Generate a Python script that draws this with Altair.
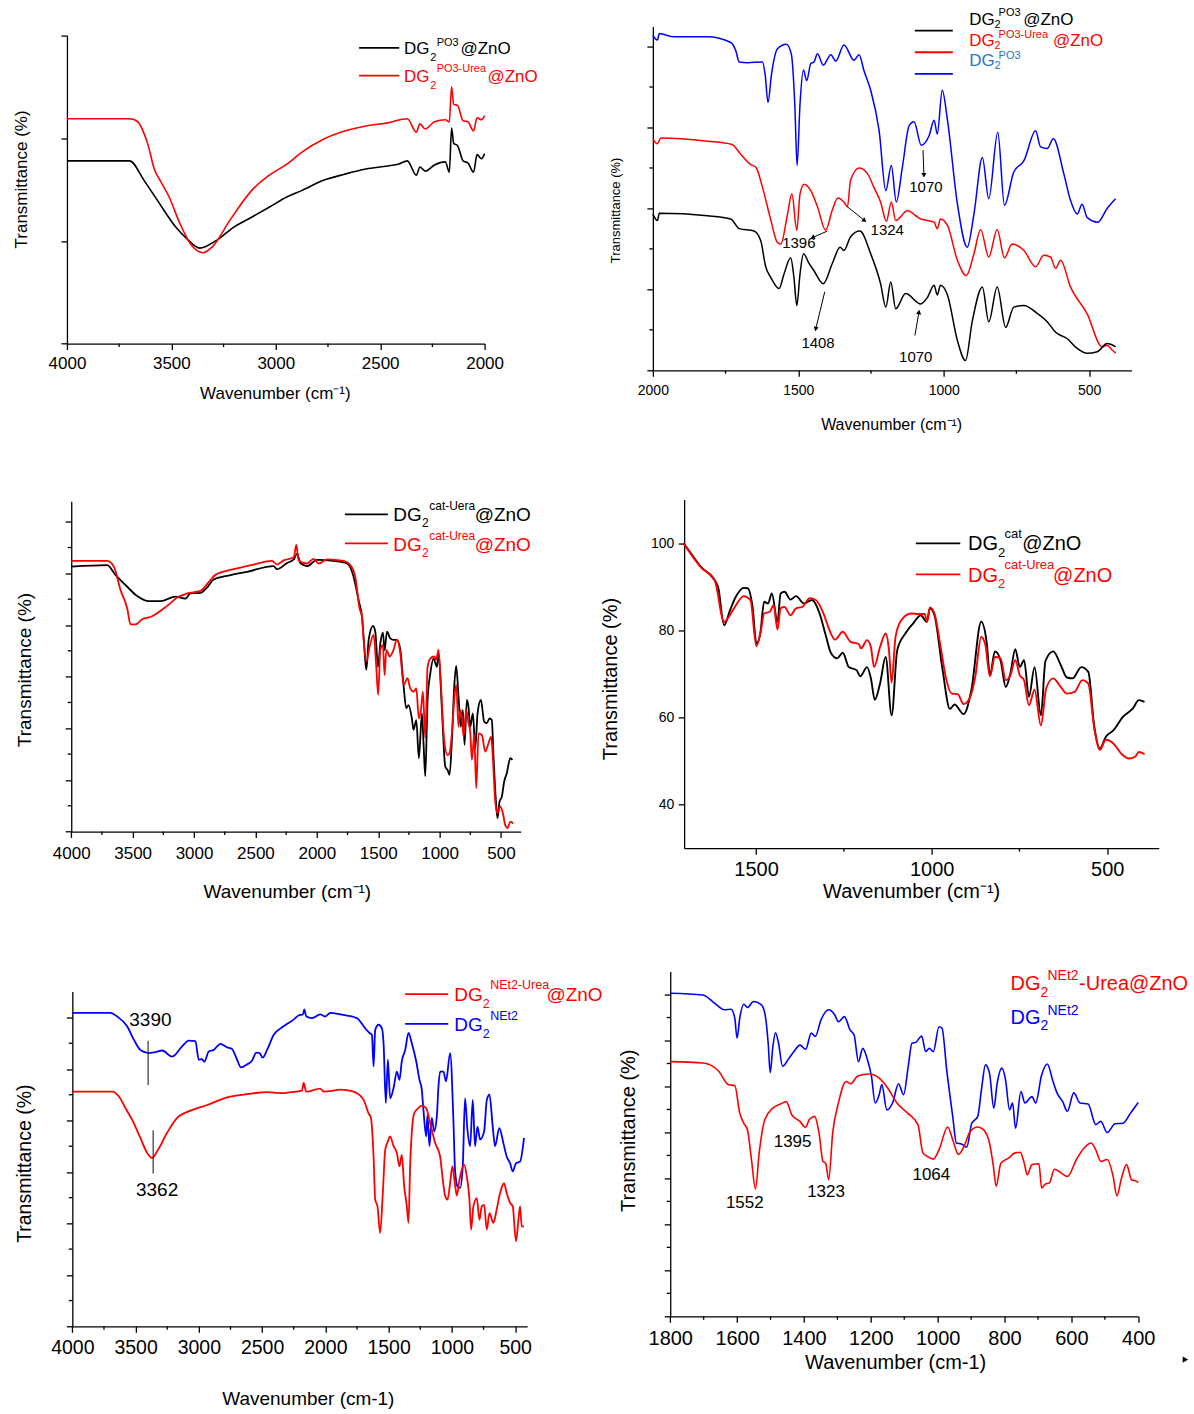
import altair as alt
import pandas as pd

FONT = "Liberation Sans"
BLACK, RED, BLUE = "#000000", "#ff0000", "#0000ff"
LBLUE = "#1f78c8"

# ---------------- Panel A (top-left) ----------------
A_BLACK_WN = [4000, 3850, 3700, 3631, 3562, 3477, 3425, 3364, 3288, 3204, 3116, 3030, 2945, 2876, 2772, 2670, 2568, 2464, 2410, 2370,
              2327, 2310, 2284, 2240, 2188, 2169, 2158, 2148, 2130, 2103, 2080, 2053, 2036, 2015, 2000]
A_BLACK_T = [1.78, 1.78, 1.78, 1.59, 1.38, 1.13, 1.02, 0.93, 1.00, 1.13, 1.23, 1.33, 1.43, 1.49, 1.59, 1.65, 1.70, 1.73, 1.75, 1.78,
             1.64, 1.72, 1.68, 1.74, 1.77, 1.67, 2.10, 1.95, 1.93, 1.78, 1.76, 1.67, 1.84, 1.80, 1.85]
A_RED_WN = [4000, 3850, 3700, 3667, 3614, 3580, 3554, 3511, 3459, 3408, 3348, 3305, 3220, 3116, 3031, 2945, 2878, 2772, 2670, 2568,
            2465, 2370, 2327, 2310, 2284, 2240, 2188, 2169, 2158, 2148, 2130, 2103, 2080, 2053, 2036, 2015, 2000]
A_RED_T = [2.19, 2.19, 2.19, 2.17, 1.95, 1.69, 1.59, 1.43, 1.17, 0.97, 0.885, 0.94, 1.20, 1.49, 1.64, 1.75, 1.86, 1.99, 2.07, 2.12,
           2.15, 2.19, 2.06, 2.14, 2.09, 2.16, 2.18, 2.16, 2.50, 2.33, 2.32, 2.17, 2.16, 2.07, 2.20, 2.18, 2.22]

# ---------------- Panel B (top-right) ----------------
B_BLUE_WN = [2000, 1984, 1978, 1927, 1812, 1732, 1715, 1703, 1675, 1623, 1614, 1604, 1592, 1572, 1541, 1524, 1512, 1504, 1494, 1482,
             1471, 1457, 1446, 1434, 1414, 1388, 1371, 1343, 1308, 1291, 1274, 1251, 1222, 1199, 1180, 1163, 1142, 1119, 1102, 1077,
             1050, 1033, 1022, 1005, 987, 953, 919, 896, 867, 845, 814, 791, 759, 724, 684, 667, 644, 623, 587, 564,
             541, 524, 507, 470, 438, 409]
B_BLUE_T = [4.14, 4.08, 4.16, 4.12, 4.12, 4.05, 3.95, 3.81, 3.80, 3.81, 3.66, 3.31, 3.66, 3.97, 4.03, 3.91, 3.29, 2.53, 3.29, 3.71,
            3.58, 3.79, 3.81, 3.91, 3.77, 3.90, 3.82, 4.02, 3.83, 3.90, 3.70, 3.46, 2.96, 2.22, 2.53, 2.08, 2.51, 3.02, 3.07, 2.78,
            2.90, 3.09, 2.92, 3.46, 3.09, 2.06, 1.52, 1.93, 2.63, 2.12, 2.94, 2.04, 2.45, 2.59, 2.96, 2.76, 2.74, 2.86, 2.43, 2.10,
            1.93, 2.05, 1.89, 1.83, 2.00, 2.12]
B_RED_WN = [2000, 1984, 1973, 1812, 1728, 1698, 1663, 1646, 1623, 1594, 1572, 1560, 1537, 1522, 1505, 1494, 1480, 1457, 1434, 1406,
            1383, 1364, 1343, 1331, 1320, 1291, 1262, 1240, 1217, 1197, 1180, 1165, 1125, 1079, 1056, 1033, 1022, 1011, 987, 953,
            922, 896, 873, 845, 816, 791, 765, 724, 684, 656, 633, 615, 598, 564, 507, 455, 438, 421, 409]
B_RED_T = [2.86, 2.80, 2.87, 2.83, 2.79, 2.67, 2.54, 2.51, 2.26, 1.85, 1.58, 1.56, 1.93, 2.18, 1.73, 2.18, 2.30, 2.22, 2.02, 1.73,
           1.98, 2.13, 2.08, 2.02, 2.35, 2.50, 2.43, 2.26, 2.08, 1.84, 2.08, 1.85, 1.97, 1.87, 1.85, 1.83, 1.75, 1.87, 1.79, 1.36,
           1.17, 1.44, 1.74, 1.40, 1.74, 1.39, 1.56, 1.48, 1.28, 1.42, 1.40, 1.26, 1.36, 1.03, 0.70, 0.29, 0.31, 0.25, 0.21]
B_BLACK_WN = [2000, 1984, 1978, 1812, 1732, 1703, 1652, 1629, 1612, 1595, 1566, 1549, 1526, 1515, 1505, 1494, 1482, 1463, 1446, 1414,
              1383, 1356, 1343, 1320, 1288, 1251, 1217, 1199, 1182, 1165, 1131, 1079, 1056, 1033, 1022, 1011, 987, 953, 925, 902,
              867, 845, 816, 787, 759, 724, 684, 644, 615, 575, 541, 507, 472, 438, 409]
B_BLACK_T = [1.93, 1.85, 1.94, 1.91, 1.87, 1.75, 1.72, 1.60, 1.28, 1.15, 1.01, 1.19, 1.39, 1.15, 0.80, 1.19, 1.44, 1.32, 1.23, 1.07,
             1.32, 1.52, 1.48, 1.65, 1.72, 1.44, 1.07, 0.78, 1.09, 0.76, 0.95, 0.82, 0.90, 1.05, 0.93, 1.05, 0.93, 0.37, 0.12, 0.60,
             1.03, 0.60, 1.03, 0.53, 0.78, 0.80, 0.72, 0.60, 0.47, 0.39, 0.27, 0.21, 0.23, 0.33, 0.29]
B_NOTES = [("1070", 1061, 2.26), ("1396", 1498, 1.57), ("1324", 1194, 1.73), ("1408", 1432, 0.34), ("1070", 1096, 0.17)]
B_ARROWS = [(1071, 2.72, 1068, 2.41, 178), (1400, 1.72, 1451, 1.64, 246), (1331, 2.02, 1272, 1.85, 128),
            (1409, 0.97, 1440, 0.51, 194), (1099, 0.43, 1085, 0.72, 10)]

# ---------------- Panel C (middle-left) ----------------
C_BLACK_WN = [4000, 3707, 3640, 3544, 3463, 3368, 3273, 3151, 3070, 3029, 2948, 2893, 2840, 2731, 2568, 2351, 2324, 2242, 2188, 2161,
              2134, 2080, 1998, 1863, 1754, 1700, 1660, 1632, 1619, 1597, 1578, 1543, 1524, 1502, 1483, 1462, 1448, 1429, 1402, 1375,
              1348, 1320, 1293, 1272, 1253, 1226, 1212, 1190, 1169, 1144, 1131, 1117, 1098, 1076, 1049, 1022, 1009, 981, 954, 935,
              919, 900, 881, 865, 846, 827, 811, 797, 778, 765, 751, 729, 710, 691, 664, 637, 615, 594, 575, 561,
              542, 529, 512, 493, 474, 453, 425, 407]
C_BLACK_T = [5.13, 5.16, 4.97, 4.74, 4.56, 4.46, 4.46, 4.55, 4.51, 4.61, 4.62, 4.73, 4.88, 4.95, 5.03, 5.14, 5.08, 5.20, 5.27, 5.38,
             5.20, 5.14, 5.26, 5.24, 5.19, 4.93, 4.48, 4.16, 3.77, 3.13, 3.71, 3.98, 3.87, 3.19, 3.64, 3.85, 3.51, 3.87, 3.74, 3.71,
             3.71, 3.52, 2.81, 2.39, 2.45, 2.19, 1.97, 2.16, 1.42, 2.29, 1.71, 1.07, 2.55, 3.06, 3.35, 3.19, 3.45, 2.35, 1.26, 1.19,
             1.10, 1.77, 2.81, 3.21, 2.61, 2.03, 2.35, 1.68, 2.55, 2.42, 2.03, 2.29, 1.61, 2.29, 2.55, 2.13, 2.10, 2.19, 2.16, 1.45,
             0.61, 0.26, 0.58, 0.68, 0.97, 1.13, 1.42, 1.39]
C_RED_WN = [4000, 3707, 3653, 3599, 3544, 3517, 3477, 3422, 3341, 3219, 3124, 3056, 2948, 2867, 2826, 2677, 2514, 2365, 2324, 2270,
            2188, 2167, 2148, 2080, 2026, 1985, 1917, 1782, 1727, 1687, 1652, 1632, 1619, 1597, 1570, 1537, 1516, 1500, 1483, 1462,
            1448, 1434, 1407, 1375, 1348, 1320, 1293, 1261, 1239, 1212, 1190, 1169, 1152, 1136, 1117, 1098, 1076, 1044, 1028, 1009,
            990, 963, 935, 919, 900, 881, 865, 846, 832, 819, 805, 783, 765, 751, 737, 718, 702, 683, 656, 629,
            602, 580, 567, 548, 529, 507, 485, 466, 447, 425, 412, 404]
C_RED_T = [5.24, 5.24, 5.13, 4.68, 4.32, 4.01, 4.01, 4.11, 4.17, 4.37, 4.55, 4.61, 4.66, 4.87, 4.97, 5.08, 5.17, 5.24, 5.17, 5.25,
           5.31, 5.55, 5.25, 5.19, 5.28, 5.19, 5.27, 5.24, 5.16, 4.93, 4.32, 4.16, 3.71, 3.29, 3.58, 3.81, 3.19, 2.65, 3.52, 3.61,
           3.03, 3.52, 3.39, 3.52, 3.72, 3.45, 2.84, 2.97, 2.77, 2.71, 2.77, 2.19, 2.35, 2.71, 1.81, 3.19, 3.35, 3.39, 3.33, 3.52,
           2.87, 1.77, 1.48, 1.52, 1.90, 2.55, 2.84, 2.03, 2.35, 2.23, 1.84, 2.35, 2.10, 1.94, 1.39, 1.87, 0.84, 1.90, 1.87, 1.55,
           1.71, 1.84, 1.45, 0.61, 0.36, 0.49, 0.36, 0.13, 0.07, 0.19, 0.19, 0.15]

# ---------------- Panel D (middle-right) ----------------
D_BLACK_WN = [1706, 1685, 1657, 1624, 1608, 1591, 1574, 1558, 1535, 1524, 1510, 1499, 1488, 1477, 1466, 1455, 1439, 1430, 1419, 1402,
              1386, 1364, 1341, 1319, 1303, 1286, 1269, 1253, 1236, 1214, 1203, 1184, 1173, 1162, 1147, 1131, 1114, 1098, 1075, 1053,
              1031, 1014, 1005, 992, 970, 948, 935, 909, 887, 859, 843, 834, 820, 804, 789, 776, 762, 749, 737, 723,
              707, 689, 676, 654, 632, 615, 599, 574, 554, 537, 521, 504, 482, 455, 427, 410, 394]
D_BLACK_T = [100.0, 97.7, 94.6, 92.2, 90.0, 81.2, 84.7, 87.7, 89.8, 89.7, 85.4, 77.0, 79.3, 86.6, 86.2, 88.5, 82.0, 88.5, 88.9, 87.1,
             87.9, 86.2, 87.0, 83.9, 79.3, 74.7, 73.6, 74.9, 71.6, 70.9, 69.5, 71.6, 69.0, 64.1, 67.8, 73.9, 60.5, 75.5, 79.3, 81.6,
             83.5, 82.0, 85.1, 83.5, 71.6, 62.0, 63.0, 60.8, 66.3, 82.0, 77.0, 69.7, 75.2, 73.2, 67.0, 70.1, 75.7, 71.6, 73.2, 64.8,
             71.6, 60.5, 73.0, 75.2, 72.0, 69.2, 69.0, 71.6, 70.5, 57.9, 52.9, 55.6, 57.1, 60.2, 62.1, 64.0, 63.6]
D_RED_WN = [1706, 1657, 1618, 1591, 1563, 1535, 1516, 1499, 1486, 1477, 1461, 1450, 1439, 1430, 1419, 1402, 1386, 1369, 1347, 1330,
            1308, 1291, 1275, 1253, 1231, 1208, 1201, 1184, 1173, 1164, 1147, 1131, 1122, 1114, 1103, 1086, 1059, 1037, 1020, 1013,
            1005, 992, 976, 959, 943, 926, 909, 892, 876, 859, 848, 834, 820, 804, 789, 776, 762, 749, 737, 723,
            707, 689, 674, 654, 632, 615, 593, 571, 554, 537, 521, 504, 482, 460, 438, 421, 410, 394]
D_RED_T = [100.0, 94.5, 91.6, 82.0, 85.1, 87.9, 87.0, 76.4, 80.1, 83.9, 84.3, 85.8, 80.2, 85.1, 85.4, 83.5, 85.1, 85.4, 87.4, 87.0,
           83.9, 80.1, 77.9, 79.7, 77.4, 76.9, 75.9, 77.8, 76.2, 71.6, 76.2, 79.3, 75.9, 68.0, 78.5, 82.4, 83.9, 83.8, 83.8, 82.0,
           85.3, 83.9, 77.0, 69.0, 65.5, 65.4, 63.1, 64.4, 69.3, 78.5, 77.0, 69.5, 73.9, 73.6, 68.6, 69.7, 73.2, 69.7, 68.6, 62.8,
           66.4, 58.2, 66.7, 69.0, 67.0, 65.5, 65.9, 68.6, 67.8, 57.5, 52.6, 54.9, 54.0, 51.7, 50.6, 51.0, 52.1, 51.6]

# ---------------- Panel E (bottom-left) ----------------
E_BLUE_WN = [4000, 3698, 3646, 3567, 3514, 3462, 3396, 3343, 3290, 3211, 3132, 3080, 3027, 3001, 2974, 2956, 2922, 2883, 2830, 2777,
             2738, 2698, 2667, 2619, 2580, 2546, 2520, 2496, 2461, 2409, 2330, 2251, 2212, 2177, 2167, 2151, 2106, 2040, 2001, 1961,
             1882, 1751, 1685, 1651, 1632, 1619, 1606, 1580, 1553, 1540, 1522, 1506, 1488, 1461, 1435, 1414, 1396, 1369, 1343, 1317,
             1282, 1256, 1238, 1225, 1203, 1193, 1177, 1159, 1140, 1119, 1106, 1093, 1067, 1046, 1014, 988, 975, 956, 935, 914,
             896, 877, 856, 835, 817, 798, 777, 745, 724, 703, 677, 659, 625, 593, 567, 540, 519, 493, 461, 430]
E_BLUE_T = [6.09, 6.09, 6.02, 5.83, 5.57, 5.37, 5.31, 5.33, 5.36, 5.24, 5.44, 5.55, 5.54, 5.18, 5.19, 5.14, 5.34, 5.37, 5.49, 5.42,
            5.39, 5.18, 5.03, 5.09, 5.16, 5.32, 5.31, 5.22, 5.37, 5.66, 5.83, 5.96, 6.04, 6.06, 6.16, 6.02, 5.99, 6.06, 6.02, 6.09,
            6.06, 5.99, 5.79, 5.70, 5.66, 5.05, 5.76, 5.86, 5.79, 5.50, 4.34, 5.18, 4.43, 4.63, 4.95, 4.79, 5.15, 5.37, 5.70, 5.50,
            5.15, 4.79, 4.60, 4.21, 3.69, 4.11, 3.50, 4.05, 3.79, 4.08, 4.66, 4.95, 4.95, 4.76, 5.31, 4.01, 3.04, 2.72, 2.69, 3.11,
            4.43, 3.82, 3.50, 4.40, 3.50, 3.88, 3.63, 3.79, 4.40, 4.50, 3.88, 3.50, 3.85, 3.56, 3.30, 3.17, 3.01, 3.17, 3.20, 3.66]
E_RED_WN = [4000, 3685, 3633, 3580, 3527, 3462, 3409, 3369, 3330, 3251, 3172, 3067, 2935, 2777, 2619, 2461, 2343, 2277, 2185, 2172,
            2151, 2040, 2014, 1935, 1882, 1777, 1698, 1659, 1640, 1619, 1606, 1588, 1567, 1546, 1527, 1506, 1488, 1461, 1435, 1414,
            1396, 1377, 1356, 1343, 1330, 1317, 1298, 1277, 1238, 1203, 1172, 1132, 1093, 1072, 1053, 1035, 1014, 996, 975, 961,
            940, 922, 903, 882, 861, 848, 830, 803, 782, 764, 745, 724, 703, 672, 646, 619, 588, 567, 540, 519,
            493, 474, 461, 448, 430]
E_RED_T = [4.56, 4.56, 4.47, 4.24, 4.01, 3.66, 3.37, 3.27, 3.40, 3.76, 4.05, 4.19, 4.30, 4.45, 4.51, 4.55, 4.53, 4.55, 4.58, 4.73,
           4.56, 4.62, 4.56, 4.58, 4.60, 4.56, 4.40, 4.14, 4.05, 3.30, 2.46, 2.33, 1.81, 2.59, 3.43, 3.59, 3.69, 3.50, 3.37, 3.11,
           3.33, 2.72, 2.33, 2.01, 3.11, 3.76, 4.14, 4.21, 4.29, 4.24, 3.95, 3.56, 3.30, 2.85, 2.53, 2.46, 2.78, 3.11, 2.75, 2.54,
           2.85, 3.04, 3.14, 2.91, 2.46, 1.88, 2.33, 2.49, 2.07, 2.33, 2.36, 1.88, 2.20, 2.01, 2.27, 2.59, 2.78, 2.59, 2.40, 2.33,
           1.65, 2.07, 2.33, 1.94, 1.94]
E_NOTES = [("3390", 3383, 5.95), ("3362", 3330, 2.65)]
E_MARKS = [(3401, 5.55, 4.69), (3361, 3.81, 2.97)]

# ---------------- Panel F (bottom-right) ----------------
F_BLUE_WN = [1800, 1702, 1667, 1638, 1618, 1607, 1600, 1592, 1580, 1569, 1551, 1528, 1517, 1507, 1501, 1493, 1485, 1476, 1464, 1447,
             1430, 1412, 1395, 1378, 1366, 1349, 1326, 1308, 1297, 1279, 1262, 1250, 1237, 1224, 1210, 1198, 1187, 1175, 1167, 1152,
             1135, 1117, 1102, 1088, 1077, 1065, 1048, 1036, 1025, 1013, 996, 987, 973, 955, 944, 929, 913, 898, 889, 880,
             869, 857, 845, 832, 822, 808, 797, 785, 776, 767, 751, 739, 718, 707, 689, 672, 655, 643, 626, 612,
             593, 574, 550, 527, 512, 493, 469, 446, 423, 400]
F_BLUE_T = [7.03, 6.99, 6.81, 6.67, 6.68, 6.49, 6.05, 6.49, 6.79, 6.72, 6.85, 6.78, 6.59, 5.94, 5.30, 5.87, 6.17, 5.94, 5.44, 5.59,
            5.76, 5.90, 5.81, 6.16, 6.09, 6.45, 6.67, 6.56, 6.41, 6.52, 6.23, 6.12, 5.54, 5.83, 5.58, 5.22, 4.64, 4.82, 5.04, 4.49,
            4.64, 5.06, 4.82, 5.44, 5.94, 5.96, 6.10, 5.76, 5.83, 5.76, 6.30, 6.27, 5.36, 4.35, 3.77, 3.75, 3.68, 4.20, 4.27, 4.35,
            4.93, 5.47, 5.29, 4.53, 5.07, 5.40, 5.15, 4.49, 4.64, 4.09, 4.89, 4.64, 4.78, 4.64, 5.25, 5.49, 5.11, 4.86, 4.67, 4.46,
            4.86, 4.64, 4.62, 4.17, 4.24, 4.00, 4.19, 4.20, 4.42, 4.65]
F_RED_WN = [1800, 1702, 1655, 1626, 1607, 1592, 1580, 1569, 1557, 1545, 1534, 1517, 1493, 1470, 1453, 1436, 1412, 1395, 1384, 1368,
            1355, 1343, 1335, 1326, 1314, 1297, 1274, 1260, 1239, 1204, 1175, 1146, 1123, 1088, 1059, 1044, 1031, 1013, 996, 970,
            955, 938, 921, 903, 880, 863, 845, 834, 825, 811, 788, 770, 753, 741, 732, 718, 697, 689, 678, 666,
            651, 631, 612, 585, 562, 541, 527, 512, 493, 475, 464, 450, 435, 420, 406, 400]
F_RED_T = [5.54, 5.51, 5.33, 5.04, 5.02, 4.42, 4.20, 4.06, 3.41, 2.77, 3.55, 4.28, 4.53, 4.62, 4.67, 4.38, 4.24, 4.11, 4.28, 4.35,
           3.99, 3.37, 3.33, 2.97, 3.99, 4.64, 5.11, 5.06, 5.23, 5.27, 5.18, 4.93, 4.65, 4.41, 4.17, 3.55, 3.48, 3.42, 3.62, 4.12,
           3.84, 3.52, 3.70, 4.02, 4.12, 4.06, 3.77, 3.30, 2.83, 3.33, 3.44, 3.55, 3.57, 3.33, 3.08, 3.30, 3.32, 2.79, 2.88, 2.90,
           3.20, 3.12, 3.04, 3.41, 3.66, 3.77, 3.62, 3.37, 3.41, 3.04, 2.62, 3.01, 3.30, 2.97, 2.94, 2.91]
F_NOTES = [("1552", 1577, 2.47), ("1395", 1434, 3.80), ("1323", 1334, 2.70), ("1064", 1019, 3.08)]

# axis tick values
A_XMAJ, A_XMIN = [4000, 3500, 3000, 2500, 2000], [3750, 3250, 2750, 2250]
B_XMAJ, B_XMIN = [2000, 1500, 1000, 500], [1750, 1250, 750]
C_XMAJ = [4000, 3500, 3000, 2500, 2000, 1500, 1000, 500]
C_XMIN = [3750, 3250, 2750, 2250, 1750, 1250, 750]
D_XMAJ, D_XMIN = [1500, 1000, 500], [1250, 750]
F_XMAJ = [1800, 1600, 1400, 1200, 1000, 800, 600, 400]
F_XMIN = [1700, 1500, 1300, 1100, 900, 700, 500]
D_YMAJ = [40, 60, 80, 100]

DUMMY = pd.DataFrame({"k": [0]})


def txt(s, x, y, size, color=BLACK, align="left", baseline="alphabetic", angle=0):
    return alt.Chart(DUMMY).mark_text(text=s, font=FONT, fontSize=size, color=color, align=align,
                                      baseline=baseline, angle=angle).encode(x=alt.value(x), y=alt.value(y))


def hline(x1, x2, y, color, w=1.8):
    return alt.Chart(DUMMY).mark_rule(color=color, strokeWidth=w).encode(
        x=alt.value(x1), x2=alt.value(x2), y=alt.value(y))


def panel(p):
    xs = alt.Scale(domain=p["xdom"], range=p["xrange"], nice=False, zero=False)
    ys = alt.Scale(domain=p["ydom"], range=p["yrange"], nice=False, zero=False)
    xax = alt.Axis(values=p["xmaj"], title=None, grid=False, format="d", labelFlush=False, labelOverlap=False,
                   labelFont=FONT, labelFontSize=p["xlab"], labelColor=BLACK, labelPadding=p["xpad"],
                   tickSize=6, tickColor=BLACK, tickWidth=1.3, domainColor=BLACK, domainWidth=1.3)
    ykw = dict(values=p["ymaj"], title=None, grid=False, tickSize=6, tickColor=BLACK, tickWidth=1.3,
               domainColor=BLACK, domainWidth=1.3, offset=-p["yoff"])
    if p.get("ylab"):
        ykw.update(labels=True, format="d", labelFont=FONT, labelFontSize=p["ylab"], labelColor=BLACK,
                   labelPadding=p["ypad"])
    else:
        ykw.update(labels=False)
    yax = alt.Axis(**ykw)

    def X(f):
        return alt.X(f, scale=xs, axis=xax)

    def Y(f):
        return alt.Y(f, scale=ys, axis=yax)

    layers = []
    for wn, t, color in p["curves"]:
        df = pd.DataFrame({"wn": wn, "t": t, "i": list(range(len(wn)))})
        layers.append(alt.Chart(df).mark_line(color=color, strokeWidth=p["lw"], interpolate="monotone").encode(
            x=X("wn:Q"), y=Y("t:Q"), order="i:Q"))
    H = p["yrange"][0]
    x0 = p["xrange"][0]
    if p["xmin"]:
        layers.append(alt.Chart(pd.DataFrame({"wn": p["xmin"]})).mark_rule(color=BLACK, strokeWidth=1.3).encode(
            x=X("wn:Q"), y=alt.value(H), y2=alt.value(H + 3.5)))
    if p["ymin"]:
        layers.append(alt.Chart(pd.DataFrame({"t": p["ymin"]})).mark_rule(color=BLACK, strokeWidth=1.3).encode(
            y=Y("t:Q"), x=alt.value(x0 - 3.5), x2=alt.value(x0)))
    for s, wn, t in p.get("notes", []):
        df = pd.DataFrame({"wn": [wn], "t": [t], "s": [s]})
        layers.append(alt.Chart(df).mark_text(font=FONT, fontSize=p["note_size"], color=BLACK, align="center",
                                              baseline="middle").encode(x=X("wn:Q"), y=Y("t:Q"), text="s:N"))
    for w1, t1, w2, t2, ang in p.get("arrows", []):
        df = pd.DataFrame({"wn": [w1], "t": [t1], "wn2": [w2], "t2": [t2]})
        layers.append(alt.Chart(df).mark_rule(color=BLACK, strokeWidth=1).encode(
            x=X("wn:Q"), x2="wn2:Q", y=Y("t:Q"), y2="t2:Q"))
        layers.append(alt.Chart(df).mark_point(shape="triangle-up", filled=True, size=26, angle=ang,
                                               color=BLACK, opacity=1).encode(x=X("wn2:Q"), y=Y("t2:Q")))
    for wn, t1, t2 in p.get("marks", []):
        df = pd.DataFrame({"wn": [wn], "t": [t1], "t2": [t2]})
        layers.append(alt.Chart(df).mark_rule(color="#333333", strokeWidth=1.2).encode(
            x=X("wn:Q"), y=Y("t:Q"), y2="t2:Q"))
    for x1, x2, y, c in p.get("leg_lines", []):
        layers.append(hline(x1, x2, y, c))
    for s, x, y, size, c in p.get("leg_text", []):
        layers.append(txt(s, x, y, size, c))
    # axis titles
    ytx, yty, yts = p["ytitle"]
    layers.append(txt("Transmittance (%)", ytx, yty, yts, BLACK, "center", "middle", 270))
    xt, xtx, xty, xts = p["xtitle"]
    layers.append(txt(xt, xtx, xty, xts, BLACK, "center", "middle"))
    layers.extend(p.get("extra", []))
    return alt.layer(*layers).properties(width=p["W"], height=p["H"])


WN1 = "Wavenumber (cm\u207b\u00b9)"
WN2 = "Wavenumber (cm-1)"

pA = panel(dict(
    W=418, H=317.3, xdom=[4000, 2000], xrange=[0, 418], ydom=[0, 3], yrange=[317.3, 9],
    xmaj=A_XMAJ, xmin=A_XMIN, ymaj=[0, 1, 2, 3], ymin=[], xlab=17, xpad=6, yoff=0, lw=1.6,
    curves=[(A_BLACK_WN, A_BLACK_T, BLACK), (A_RED_WN, A_RED_T, RED)],
    leg_lines=[(292.4, 332.6, 21.3, BLACK), (292.4, 332.6, 49, RED)],
    leg_text=[("DG", 337.3, 27.3, 17, BLACK), ("2", 363.5, 34, 11, BLACK), ("PO3", 370, 19, 11, BLACK),
              ("@ZnO", 393.9, 27.3, 17, BLACK),
              ("DG", 337.3, 55.7, 17, RED), ("2", 363.5, 62.4, 11, RED), ("PO3-Urea", 370, 45.7, 11, RED),
              ("@ZnO", 420.9, 55.7, 17, RED)],
    ytitle=(-45.4, 153, 17), xtitle=(WN1, 208.6, 368, 17),
    extra=[alt.Chart(DUMMY).mark_rule(color="white", strokeWidth=1).encode(
               x=alt.value(-65.9), x2=alt.value(-65.9), y=alt.value(-25.5), y2=alt.value(-25.5)),
           alt.Chart(DUMMY).mark_rule(color="white", strokeWidth=1).encode(
               x=alt.value(1127.1), x2=alt.value(1127.1), y=alt.value(1387.5), y2=alt.value(1387.5))],
))

pB = panel(dict(
    W=479, H=344, xdom=[2000, 354.4], xrange=[0, 479], ydom=[0, 4.247], yrange=[344, 0],
    xmaj=B_XMAJ, xmin=B_XMIN, ymaj=[0, 1, 2, 3, 4], ymin=[0.5, 1.5, 2.5, 3.5], xlab=14, xpad=7.5, yoff=0, lw=1.5,
    curves=[(B_BLUE_WN, B_BLUE_T, BLUE), (B_RED_WN, B_RED_T, RED), (B_BLACK_WN, B_BLACK_T, BLACK)],
    notes=B_NOTES, arrows=B_ARROWS, note_size=15,
    leg_lines=[(262.2, 300.2, 4, BLACK), (262.2, 300.2, 25.7, RED), (262.2, 300.2, 47.3, BLUE)],
    leg_text=[("DG", 316.6, -2, 17, BLACK), ("2", 342, 1.5, 11, BLACK), ("PO3", 346, -11, 11, BLACK),
              ("@ZnO", 370.7, -2, 17, BLACK),
              ("DG", 316.6, 19, 17, RED), ("2", 342, 22.3, 11, RED), ("PO3-Urea", 346, 11.3, 11, RED),
              ("@ZnO", 400.4, 19, 17, RED),
              ("DG", 316.6, 39, 17, LBLUE), ("2", 342, 42.3, 11, LBLUE), ("PO3", 346, 32.3, 11, LBLUE)],
    ytitle=(-37, 184, 13), xtitle=(WN1, 239, 399, 16),
))

pC = panel(dict(
    W=454.1, H=338.3, xdom=[4000, 340], xrange=[4.3, 454.1], ydom=[0, 6.397], yrange=[338.3, 7.6],
    xmaj=C_XMAJ, xmin=C_XMIN, ymaj=[0, 1, 2, 3, 4, 5, 6], ymin=[0.5, 1.5, 2.5, 3.5, 4.5, 5.5],
    xlab=17, xpad=8.3, yoff=4.3, lw=1.8,
    curves=[(C_BLACK_WN, C_BLACK_T, BLACK), (C_RED_WN, C_RED_T, RED)],
    leg_lines=[(278.2, 321.2, 20.9, BLACK), (278.2, 321.2, 49.9, RED)],
    leg_text=[("DG", 326.6, 27.3, 19, BLACK), ("2", 355.3, 33.9, 12, BLACK), ("cat-Uera", 362.6, 16.6, 12, BLACK),
              ("@ZnO", 408.1, 27.3, 19, BLACK),
              ("DG", 326.6, 57.3, 19, RED), ("2", 355.3, 63.9, 12, RED), ("cat-Urea", 362.6, 46.6, 12, RED),
              ("@ZnO", 408.1, 57.3, 19, RED)],
    ytitle=(-42.4, 176.6, 19), xtitle=(WN1, 220.6, 398.6, 19),
))

pD = panel(dict(
    W=506.3, H=354.9, xdom=[1704.8, 353.5], xrange=[31.3, 506.3], ydom=[30, 110.1], yrange=[354.9, 5.9],
    xmaj=D_XMAJ, xmin=D_XMIN, ymaj=D_YMAJ, ymin=[], xlab=20, xpad=5.5, yoff=31.3, lw=1.9,
    ylab=14, ypad=4.3,
    curves=[(D_BLACK_WN, D_BLACK_T, BLACK), (D_RED_WN, D_RED_T, RED)],
    leg_lines=[(263.2, 307.7, 49.9, BLACK), (263.2, 307.7, 80.9, RED)],
    leg_text=[("DG", 315.5, 56.6, 20, BLACK), ("2", 345.5, 63.3, 13, BLACK), ("cat", 352, 44.9, 13, BLACK),
              ("@ZnO", 369.7, 56.6, 20, BLACK),
              ("DG", 315.5, 88.3, 20, RED), ("2", 345.5, 94.9, 13, RED), ("cat-Urea", 352, 75.9, 13, RED),
              ("@ZnO", 400.6, 88.3, 20, RED)],
    ytitle=(-42, 185.6, 20), xtitle=(WN1, 259, 398.5, 20),
))

pE = panel(dict(
    W=462.2, H=355, xdom=[4000, 405], xrange=[5.4, 460.6], ydom=[0, 6.505], yrange=[355, 20],
    xmaj=C_XMAJ, xmin=C_XMIN, ymaj=[0, 1, 2, 3, 4, 5, 6], ymin=[0.5, 1.5, 2.5, 3.5, 4.5, 5.5],
    xlab=19.5, xpad=5.9, yoff=5.4, lw=1.8,
    curves=[(E_BLUE_WN, E_BLUE_T, BLUE), (E_RED_WN, E_RED_T, RED)],
    notes=E_NOTES, note_size=19, marks=E_MARKS,
    leg_lines=[(338.5, 381.6, 22.6, RED), (338.5, 381.6, 52.3, BLUE)],
    leg_text=[("DG", 387.6, 29, 19, RED), ("2", 416.1, 36.6, 12.5, RED), ("NEt2-Urea", 423.6, 17.6, 12.5, RED),
              ("@ZnO", 479.9, 29, 19, RED),
              ("DG", 387.6, 59.3, 19, BLUE), ("2", 416.1, 66.6, 12.5, BLUE), ("NEt2", 423.6, 48.3, 12.5, BLUE)],
    ytitle=(-42.4, 192.3, 19.5), xtitle=(WN2, 241.6, 427.3, 19),
))

pF = panel(dict(
    W=485.8, H=345, xdom=[1800, 400], xrange=[17.4, 485.8], ydom=[0, 7.5], yrange=[345, 0],
    xmaj=F_XMAJ, xmin=F_XMIN, ymaj=[0, 1, 2, 3, 4, 5, 6, 7], ymin=[0.5, 1.5, 2.5, 3.5, 4.5, 5.5, 6.5],
    xlab=20, xpad=5.8, yoff=17.4, lw=1.6,
    curves=[(F_BLUE_WN, F_BLUE_T, BLUE), (F_RED_WN, F_RED_T, RED)],
    notes=F_NOTES, note_size=17,
    leg_text=[("DG", 358, 18.3, 20, RED), ("2", 388, 25, 14, RED), ("NEt2", 395, 8.3, 14, RED),
              ("-Urea@ZnO", 426.6, 18.3, 20, RED),
              ("DG", 358, 52.3, 20, BLUE), ("2", 388, 58.3, 14, BLUE), ("NEt2", 395, 43.3, 14, BLUE)],
    ytitle=(-24, 159.3, 20), xtitle=(WN2, 243, 391.3, 20),
    extra=[alt.Chart(DUMMY).mark_point(shape="triangle-right", filled=True, size=40, color=BLACK, opacity=1).encode(
        x=alt.value(533), y=alt.value(388.3))],
))

chart = alt.concat(pA, pB, pC, pD, pE, pF, columns=2, spacing=123.4, bounds="flush").properties(
    padding={"left": 0, "top": 0, "right": 0, "bottom": 0}, background="white"
).configure_view(stroke=None)

chart.save("out.html", embed_options={"renderer": "svg", "actions": False})
